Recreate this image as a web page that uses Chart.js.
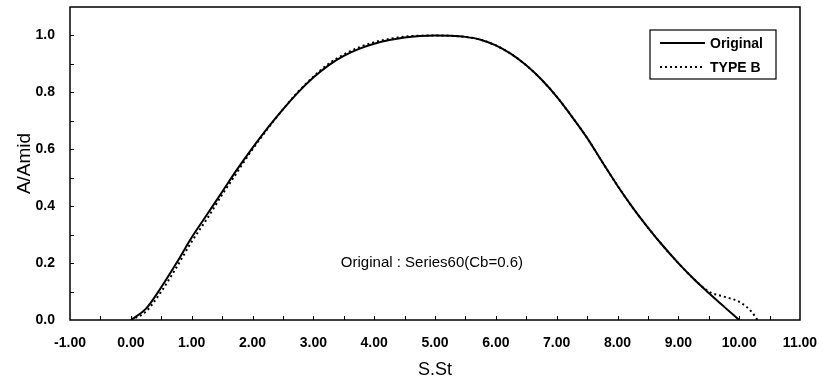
<!DOCTYPE html>
<html lang="en">
<head>
    <meta charset="UTF-8">
    <title>A/Amid vs S.St</title>
    <style>
        body {
            margin: 0;
            background-color: #ffffff;
            font-family: "Liberation Sans", Arial, sans-serif;
        }
        .chart-box {
            width: 824px;
            height: 385px;
        }
    </style>
    <script src="https://cdn.jsdelivr.net/npm/chart.js"></script>
</head>
<body>
    <div class="chart-box">
        <canvas id="areaChart" width="824" height="385"></canvas>
    </div>

    <script>
        // Stations (S.St) and sectional area ratio A/Amid
        const stations = [0, 0.25, 0.5, 0.75, 1.0, 1.25, 1.5, 1.75, 2.0, 2.25, 2.5, 2.75, 3.0, 3.25, 3.5, 3.75,
            4.0, 4.25, 4.5, 4.75, 5.0, 5.25, 5.5, 5.75, 6.0, 6.25, 6.5, 6.75, 7.0, 7.25, 7.5, 7.75,
            8.0, 8.25, 8.5, 8.75, 9.0, 9.25, 9.5, 9.75, 10.0];
        const original = [0, 0.04, 0.115, 0.2, 0.29, 0.37, 0.45, 0.53, 0.605, 0.675, 0.74, 0.8, 0.852, 0.895, 0.928, 0.953,
            0.971, 0.984, 0.993, 0.998, 1.0, 0.999, 0.995, 0.985, 0.965, 0.935, 0.895, 0.845, 0.785, 0.715, 0.64, 0.555,
            0.472, 0.395, 0.325, 0.26, 0.2, 0.145, 0.095, 0.047, 0];

        const typeBStations = [0, 0.25, 0.5, 0.75, 1.0, 1.25, 1.5, 1.75, 2.0, 2.25, 2.5, 2.75, 3.0, 3.25, 3.5, 3.75,
            4.0, 4.25, 4.5, 4.75, 5.0, 5.25, 5.5, 5.75, 6.0, 6.25, 6.5, 6.75, 7.0, 7.25, 7.5, 7.75,
            8.0, 8.25, 8.5, 8.75, 9.0, 9.25, 9.5, 9.75, 10.0, 10.2, 10.3];
        const typeB = [0, 0.03, 0.1, 0.185, 0.275, 0.355, 0.44, 0.52, 0.6, 0.672, 0.74, 0.802, 0.855, 0.9, 0.933, 0.958,
            0.976, 0.988, 0.996, 0.999, 1.0, 0.999, 0.995, 0.985, 0.965, 0.935, 0.895, 0.845, 0.785, 0.715, 0.64, 0.555,
            0.472, 0.395, 0.325, 0.26, 0.2, 0.145, 0.1, 0.082, 0.064, 0.03, 0];

        const seriesNames = ['Original', 'TYPE B'];
        const annotationText = 'Original : Series60(Cb=0.6)';
        const annotationAt = { x: 4.95, y: 0.2 };

        const xMin = -1, xMax = 11, xMajor = 1, xMinor = 0.5;
        const yMin = 0, yMax = 1.1, yMajor = 0.2, yMinor = 0.1;

        const toPoints = (xs, ys) => xs.map((x, i) => ({ x: x, y: ys[i] }));
        const tickFont = { family: 'Liberation Sans', size: 14, weight: 'bold' };

        // frame, inward tick marks, annotation and boxed legend
        const framePlugin = {
            id: 'frame',
            afterDraw(chart) {
                const { ctx, chartArea: a, scales } = chart;
                ctx.save();
                ctx.strokeStyle = '#000';
                ctx.lineWidth = 1.5;
                ctx.strokeRect(a.left, a.top, a.right - a.left, a.bottom - a.top);

                ctx.lineWidth = 1;
                ctx.beginPath();
                for (let v = xMin + xMinor; v < xMax - 1e-9; v += xMinor) {
                    const px = Math.round(scales.x.getPixelForValue(v)) + 0.5;
                    ctx.moveTo(px, a.bottom);
                    ctx.lineTo(px, a.bottom - 4);
                }
                for (let v = yMin + yMinor; v < yMax - 1e-9; v += yMinor) {
                    const py = Math.round(scales.y.getPixelForValue(v)) + 0.5;
                    ctx.moveTo(a.left, py);
                    ctx.lineTo(a.left + 4, py);
                }
                ctx.stroke();

                ctx.fillStyle = '#000';
                ctx.font = '15px "Liberation Sans"';
                ctx.textAlign = 'center';
                ctx.textBaseline = 'middle';
                ctx.fillText(annotationText, scales.x.getPixelForValue(annotationAt.x), scales.y.getPixelForValue(annotationAt.y));

                // legend
                const box = { left: 650, top: 30, right: 776, bottom: 79 };
                ctx.lineWidth = 1.2;
                ctx.strokeRect(box.left, box.top, box.right - box.left, box.bottom - box.top);
                ctx.font = 'bold 14px "Liberation Sans"';
                ctx.textAlign = 'left';
                chart.data.datasets.forEach((ds, i) => {
                    const y = 43 + i * 24;
                    ctx.beginPath();
                    ctx.lineWidth = ds.borderWidth;
                    ctx.setLineDash(ds.borderDash || []);
                    ctx.moveTo(660, y);
                    ctx.lineTo(705, y);
                    ctx.stroke();
                    ctx.setLineDash([]);
                    ctx.fillText(ds.label, 710, y + 1);
                });
                ctx.restore();
            }
        };

        const ctx = document.getElementById('areaChart').getContext('2d');
        const areaChart = new Chart(ctx, {
            type: 'line',
            data: {
                datasets: [{
                    label: seriesNames[0],
                    data: toPoints(stations, original),
                    borderColor: '#000',
                    borderWidth: 2,
                    pointRadius: 0,
                    cubicInterpolationMode: 'monotone'
                }, {
                    label: seriesNames[1],
                    data: toPoints(typeBStations, typeB),
                    borderColor: '#000',
                    borderWidth: 2,
                    borderDash: [2, 3],
                    pointRadius: 0,
                    cubicInterpolationMode: 'monotone'
                }]
            },
            options: {
                responsive: false,
                animation: false,
                layout: { padding: { left: 0, top: 7, right: 24, bottom: 0 } },
                plugins: {
                    legend: { display: false },
                    tooltip: { enabled: false }
                },
                scales: {
                    x: {
                        type: 'linear',
                        min: xMin,
                        max: xMax,
                        grid: { display: false, drawTicks: false },
                        border: { display: false },
                        ticks: {
                            stepSize: xMajor,
                            padding: 15,
                            color: '#000',
                            font: tickFont,
                            callback: v => v.toFixed(2)
                        },
                        title: {
                            display: true,
                            text: 'S.St',
                            color: '#000',
                            font: { family: 'Liberation Sans', size: 18 },
                            padding: { top: 2, bottom: 4 }
                        },
                        afterFit: s => {
                            s.height = 65;
                            s.paddingLeft = 0;
                            s.paddingRight = 0;
                        }
                    },
                    y: {
                        min: yMin,
                        max: yMax,
                        grid: { display: false, drawTicks: false },
                        border: { display: false },
                        ticks: {
                            stepSize: yMajor,
                            padding: 15,
                            color: '#000',
                            font: tickFont,
                            callback: v => v > 1.05 ? '' : v.toFixed(1)
                        },
                        title: {
                            display: true,
                            text: 'A/Amid',
                            color: '#000',
                            font: { family: 'Liberation Sans', size: 19 },
                            padding: { top: 13, bottom: 0 }
                        },
                        afterFit: s => {
                            s.width = 70;
                            s.paddingTop = 0;
                            s.paddingBottom = 0;
                        }
                    }
                }
            },
            plugins: [framePlugin]
        });
    </script>
</body>
</html>
